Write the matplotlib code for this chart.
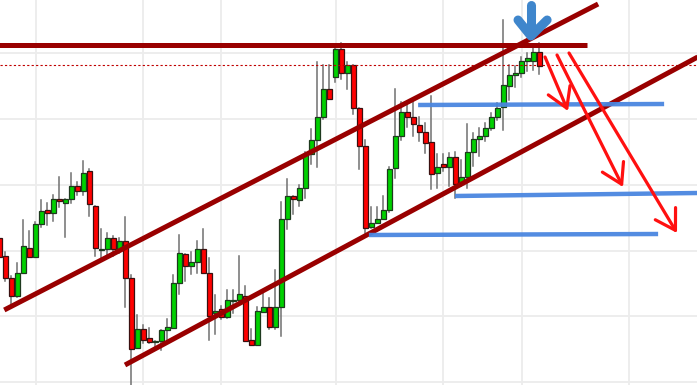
import numpy as np
import matplotlib
matplotlib.use("Agg")
import matplotlib.pyplot as plt
from matplotlib.patches import Rectangle

# Candle levels (chart units, larger = lower on screen)
opens = [238, 256, 278, 296, 273, 248, 257, 224, 210, 213,
         199, 203, 199, 186, 191, 171, 206, 249.5, 249, 238,
         250, 241, 278, 348, 329, 338, 341.5, 341, 330, 328,
         283, 254, 266, 262, 249, 273, 313, 309, 317, 300.5,
         300, 296, 340, 345, 312, 307, 327, 307, 219, 196,
         200, 188, 154, 140, 117, 89, 77, 49, 73, 65,
         108, 146, 227, 223, 219, 210, 168, 136, 112, 117,
         125, 132, 142, 173, 164, 167, 157, 184, 177, 152,
         139, 136, 128, 117, 107, 86, 75, 73, 61, 61,
         52]
highs = [236, 252, 276, 263, 220, 231, 222, 200, 203, 195,
         177, 199, 173, 182, 161, 169, 206, 229, 233, 236,
         238, 217, 275, 315, 325, 328, 341, 330, 319, 275,
         235, 254, 252, 241, 229, 258, 295, 306, 290, 290,
         256, 286, 329, 307, 293, 298, 270, 202, 179, 196,
         185, 152, 129, 62, 65, 65, 45, 43, 62, 65,
         108, 140, 207, 207, 196, 167, 89, 102, 103, 102,
         117, 123, 96, 154, 154, 153, 152, 160, 124, 133,
         128, 123, 113, 103, 20, 65, 66, 57, 53, 48,
         43]
lows = [260, 281, 304, 297, 273, 257, 257, 227, 225, 221,
        207, 237, 203, 195, 195, 216, 256, 260, 257, 256,
        253, 307, 385, 348, 343, 343, 350, 350, 342, 328,
        294, 281, 274, 273, 273, 340, 334, 319, 318, 313,
        301, 341, 345, 345, 312, 329, 329, 336, 229, 214,
        206, 198, 164, 167, 119, 99, 82, 79, 89, 114,
        169, 233, 228, 223, 219, 212, 178, 140, 127, 136,
        141, 153, 189, 188, 171, 186, 198, 186, 188, 166,
        156, 141, 130, 120, 130, 100, 87, 77, 71, 70,
        74]
closes = [257, 278, 296, 273, 246, 257, 224, 211, 213, 199,
          201, 199, 186, 191, 173, 204, 248, 249, 238, 249,
          241, 278, 349, 329, 340, 342, 341, 330, 327, 283,
          253, 266, 262, 249, 273, 316, 311, 317, 300, 300,
          294, 341, 345, 311, 307, 327, 307, 219, 196, 199,
          188, 154, 140, 117, 89, 99, 49, 73, 65, 108,
          146, 228, 223, 219, 210, 169, 136, 112, 117, 124,
          132, 143, 174, 167, 167, 157, 184, 177, 152, 139,
          136, 128, 117, 108, 85, 75, 73, 61, 58, 52,
          66]

# Drawn annotations (bar index, level)
resistance = [(0.0, 45), (97.9, 45)]
upper_channel = [(0.83, 310), (99.8, 4)]
lower_channel = [(20.95, 365), (116.4, 57)]
last_price = 65
supports = [[(69.8, 105), (110.8, 104)],
            [(75.95, 196), (116.4, 193)],
            [(61.6, 235), (109.8, 234)]]
target_arrows = [[(90.95, 57), (94.78, 111)],
                 [(92.95, 55), (103.95, 187)],
                 [(94.95, 53), (112.95, 233)]]
marker_arrow = {"top": (88.6, 5), "tip": (88.6, 36), "left": (86.45, 20), "right": (91.3, 20)}

fig = plt.figure(figsize=(6.97, 3.85), dpi=100)
ax = fig.add_axes([0, 0, 1, 1])
ax.set_xlim(0.117, 116.28)
ax.set_ylim(385, 0)
ax.axis("off")

# light grid
for gx in [36, 143, 221, 336, 443, 522, 629]:
    ax.axvline((gx + 0.7) / 6, color="#ececec", lw=1.3, zorder=0)
for gy in [53, 119, 185, 251, 316, 382]:
    ax.axhline(gy, color="#ececec", lw=1.3, zorder=0)

# candles
for i in range(len(opens)):
    o, h, l, c = opens[i], highs[i], lows[i], closes[i]
    up = c <= o
    ax.plot([i, i], [h, l], color="#707070", lw=1.1, zorder=2)
    top = min(o, c)
    hgt = max(abs(o - c), 0.8)
    ax.add_patch(Rectangle((i - 0.38, top), 0.76, hgt,
                           facecolor="#00d100" if up else "#ff0000",
                           edgecolor="#1e3a1e" if up else "#3a1010",
                           lw=0.9, zorder=3))

ax.axhline(last_price, color="#c00000", lw=0.8, ls=(0, (2, 2)), zorder=4)

line_col = "#990000"
for seg in [resistance, upper_channel, lower_channel]:
    xs, ys = zip(*seg)
    ax.plot(xs, ys, color=line_col, lw=3.6, solid_capstyle="butt", zorder=5)

for seg in supports:
    xs, ys = zip(*seg)
    ax.plot(xs, ys, color="#4a86e0", lw=3.2, solid_capstyle="butt", alpha=0.95, zorder=5)

for tail, tip in target_arrows:
    ax.annotate("", xy=tip, xytext=tail,
                arrowprops=dict(arrowstyle="->, head_length=1.4, head_width=0.85",
                                color="#ff1010", lw=2.3, shrinkA=0, shrinkB=0,
                                mutation_scale=10), zorder=6)

ma = marker_arrow
blue = "#3f86cc"
ax.plot([ma["top"][0], ma["tip"][0]], [ma["top"][1], ma["tip"][1] - 4], color=blue, lw=6.5,
        solid_capstyle="round", zorder=7)
ax.plot([ma["left"][0], ma["tip"][0], ma["right"][0]],
        [ma["left"][1], ma["tip"][1], ma["right"][1]], color=blue, lw=6.5,
        solid_capstyle="round", solid_joinstyle="round", zorder=7)

fig.savefig("out.png", dpi=100)
